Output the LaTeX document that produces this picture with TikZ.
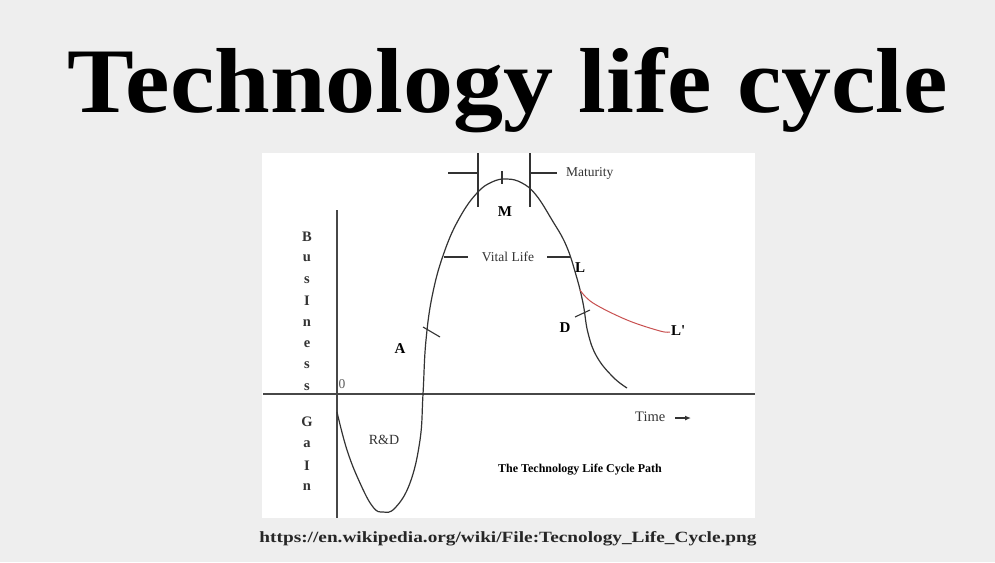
\documentclass[tikz,border=0pt]{standalone}
\usepackage{fontspec}
\setmainfont{Liberation Serif}
\usetikzlibrary{arrows.meta}
\definecolor{bggray}{HTML}{EEEEEE}
\definecolor{ink}{HTML}{333333}
\definecolor{redline}{HTML}{C85050}
\begin{document}
\begin{tikzpicture}[x=1pt,y=-1pt,
  curve/.style={draw=ink,line width=1.2pt},
  axisline/.style={draw=ink!90,line width=1.3pt},
  marker/.style={draw=ink,line width=1.1pt},
  lbl/.style={inner sep=0pt,text=ink,font=\fontsize{13.5}{13.5}\selectfont},
  blbl/.style={inner sep=0pt,text=black,font=\bfseries\fontsize{15}{15}\selectfont},
  vlet/.style={inner sep=0pt,text=ink,font=\bfseries\fontsize{14.5}{14.5}\selectfont}]
\useasboundingbox (0,0) rectangle (995,562);
\fill[bggray] (0,0) rectangle (995,562);
\fill[white] (262,153) rectangle (755,518);
% title
\node[inner sep=0pt,anchor=base] (title) at (508,112) {\resizebox{880pt}{65pt}{\bfseries Technology life cycle}};
% axes
\coordinate (xl) at (263,394);
\coordinate (xr) at (755,394);
\coordinate (yt) at (337,210);
\coordinate (yb) at (337,518);
\draw[axisline] (xl) -- (xr);
\draw[axisline] (yt) -- (yb);
% main curve
\draw[curve] plot[smooth,tension=0.7] coordinates {
 (337,412) (347,450) (360,483) (373,507) (383,512) (395,508) (410,483) (420,440)
 (423,394) (426,340) (433,292) (445,250) (460,217) (477,193) (492,182)
 (507,179) (522,183) (536,195) (552,220) (566,245) (576,275) (583,303)
 (588,333) (597,357) (613,377) (627,388)};
% red branch
\draw[draw=redline,line width=1pt] plot[smooth,tension=0.6] coordinates {
 (580,290) (593,303) (627,320) (660,331) (670,332)};
% ticks
\coordinate (ta1) at (423,327); \coordinate (ta2) at (440,337);
\draw[marker] (ta1) -- (ta2);
\coordinate (td1) at (575,317); \coordinate (td2) at (590,310);
\draw[marker] (td1) -- (td2);
% maturity markers
\coordinate (m1t) at (478,153); \coordinate (m1b) at (478,207);
\coordinate (m2t) at (530,153); \coordinate (m2b) at (530,207);
\draw[marker] (m1t) -- (m1b);
\draw[marker] (m2t) -- (m2b);
\coordinate (ml1) at (448,173); \coordinate (ml2) at (478,173);
\coordinate (mr1) at (530,173); \coordinate (mr2) at (557,173);
\draw[marker] (ml1) -- (ml2);
\draw[marker] (mr1) -- (mr2);
\coordinate (mt1) at (502,171); \coordinate (mt2) at (502,184);
\draw[marker] (mt1) -- (mt2);
\node[lbl,anchor=west] (maturity) at (566,173) {Maturity};
\node[blbl] (M) at (505,212) {M};
% vital life
\node[lbl] (vital) at (508,257) {Vital Life};
\coordinate (vl1) at (444,257); \coordinate (vl2) at (468,257);
\coordinate (vr1) at (547,257); \coordinate (vr2) at (571,257);
\draw[marker] (vl1) -- (vl2);
\draw[marker] (vr1) -- (vr2);
% point labels
\node[blbl] (L) at (580,268) {L};
\node[blbl] (D) at (565,328) {D};
\node[blbl,anchor=west] (Lp) at (671,331) {L\textquotesingle};
\node[blbl] (A) at (400,349) {A};
\node[lbl,text=ink!80] (zero) at (342,384) {0};
\node[lbl,font=\fontsize{14}{14}\selectfont] (RD) at (384,440) {R\&D};
\node[lbl,anchor=west,font=\fontsize{14.5}{14.5}\selectfont] (time) at (635,417) {Time};
\coordinate (ta) at (675,418); \coordinate (tb) at (691,418);
\draw[-{Latex[length=6pt,width=5pt]},line width=1.2pt,ink] (ta) -- (tb);
\node[inner sep=0pt,font=\bfseries\fontsize{12}{12}\selectfont] (path) at (580,470) {The Technology Life Cycle Path};
% vertical axis letters
\foreach \ch [count=\i] in {B,u,s,I,n,e,s,s}
  \node[vlet] (b\i) at (307,{237+(\i-1)*21.4}) {\ch};
\foreach \ch [count=\i] in {G,a,I,n}
  \node[vlet] (g\i) at (307,{422+(\i-1)*21.7}) {\ch};
% url
\node[inner sep=0pt,anchor=base,text=black!85] (url) at (508,542) {\resizebox{497pt}{11pt}{\bfseries https://en.wikipedia.org/wiki/File:Tecnology\_Life\_Cycle.png}};
\end{tikzpicture}
\end{document}
